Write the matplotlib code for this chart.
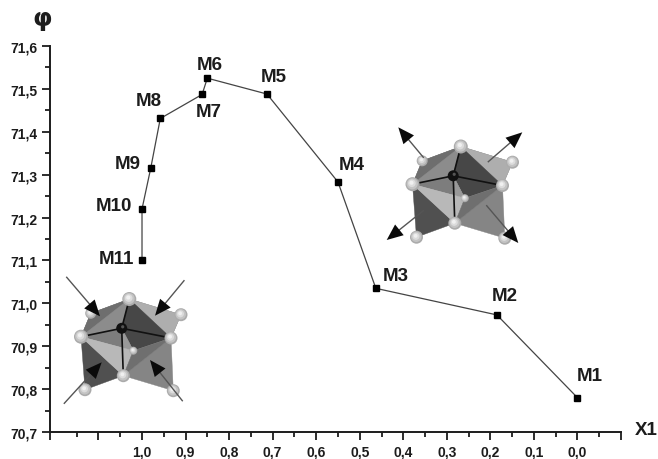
import matplotlib
matplotlib.use("Agg")
import matplotlib.pyplot as plt
from matplotlib.patches import Polygon, FancyArrowPatch, Circle

plt.rcParams['font.family'] = ['Liberation Sans', 'DejaVu Sans']
plt.rcParams['font.weight'] = 'bold'

labels = ['M1', 'M2', 'M3', 'M4', 'M5', 'M6', 'M7', 'M8', 'M9', 'M10', 'M11']
x1 = [0.0, 0.185, 0.463, 0.55, 0.713, 0.85, 0.862, 0.958, 0.98, 1.0, 1.0]
phi = [70.78, 70.973, 71.035, 71.283, 71.488, 71.525, 71.487, 71.431, 71.315, 71.22, 71.10]

x_major = [1.2113, 1.1, 1.0, 0.9, 0.8, 0.7, 0.6, 0.5, 0.4, 0.3, 0.2, 0.1, 0.0, -0.1]
x_tick_labels = ['', '', '1,0', '0,9', '0,8', '0,7', '0,6', '0,5', '0,4', '0,3', '0,2', '0,1', '0,0', '']
x_minor = [1.15, 1.05, 0.95, 0.85, 0.75, 0.65, 0.55, 0.45, 0.35, 0.25, 0.15, 0.05, -0.05]
y_major = [70.7, 70.8, 70.9, 71.0, 71.1, 71.2, 71.3, 71.4, 71.5, 71.6]
y_tick_labels = ['70,7', '70,8', '70,9', '71,0', '71,1', '71,2', '71,3', '71,4', '71,5', '71,6']
y_minor = [70.75, 70.85, 70.95, 71.05, 71.15, 71.25, 71.35, 71.45, 71.55]

# label offsets from each point, in pixels (right, up)
label_dx = [12, 8, 20, 14, 7, 2, 7, -11, -23, -28, -26]
label_dy = [22, 19, 13, 17, 18, 14, -17, 18, 5, 3, 2]

W, H = 658, 460
ink = '#1c1c1c'
fig = plt.figure(figsize=(W / 100, H / 100), dpi=100)
ax = fig.add_axes([50 / W, 1 - 433 / H, (621 - 50) / W, (433 - 47) / H])
ax.set_xlim(1.2113, -0.0999)
ax.set_ylim(70.7, 71.6)
ax.patch.set_alpha(0)
ax.plot(x1, phi, color='#444444', lw=0.9, marker='s', ms=5,
        mfc='black', mec='black', zorder=5)
for name, x, y, dx, dy in zip(labels, x1, phi, label_dx, label_dy):
    ax.annotate(name, (x, y), xytext=(dx * .72, dy * .72), textcoords='offset points',
                ha='center', va='center', fontsize=13.5, fontweight='bold', color=ink, zorder=6)

ax.set_xticks(x_major, x_tick_labels)
ax.set_xticks(x_minor, minor=True)
ax.set_yticks(y_major, y_tick_labels)
ax.set_yticks(y_minor, minor=True)
ax.tick_params(which='major', length=5.8, width=1.3, color=ink, labelsize=10, labelcolor=ink)
ax.tick_params(which='minor', length=3.4, width=1.3, color=ink)
ax.tick_params(axis='x', which='major', pad=3.5)
ax.tick_params(axis='y', which='major', pad=3)
for s in ('top', 'right'):
    ax.spines[s].set_visible(False)
for s in ('left', 'bottom'):
    ax.spines[s].set_linewidth(1.4)
    ax.spines[s].set_color(ink)

# overlay in pixel coordinates for the two polyhedron illustrations and axis titles
ov = fig.add_axes([0, 0, 1, 1], zorder=3)
ov.set_xlim(0, W)
ov.set_ylim(H, 0)
ov.axis('off')
ov.text(42.5, 19, 'φ', fontsize=18, ha='center', va='center', color=ink, family='DejaVu Sans', fontweight='bold')
ov.text(646, 431, 'X1', fontsize=13.5, ha='center', va='center', color=ink, fontweight='bold')

V = dict(T=(129.3, 40), BL=(90.7, 54.3), BR=(181, 55.7), L=(81, 77.7), R=(171, 79),
         B=(123.3, 116.7), BLo=(85, 130.7), BRo=(173.3, 131.7), C=(121.7, 69.3), I=(133.3, 91.7))
faces = [(('BL', 'T', 'BR', 'R', 'L'), '#7a7a7a'),
         (('BL', 'T', 'L'), '#6e6e6e'),
         (('T', 'BR', 'R'), '#aeaeae'),
         (('L', 'B', 'BLo'), '#505050'),
         (('R', 'B', 'BRo'), '#858585'),
         (('T', 'L', 'C'), '#8c8c8c'),
         (('T', 'R', 'I', 'C'), '#474747'),
         (('L', 'C', 'I'), '#7d7d7d'),
         (('C', 'I', 'B'), '#999999'),
         (('L', 'I', 'B'), '#b8b8b8'),
         (('R', 'I', 'B'), '#6f6f6f')]


def ball(cx, cy, r, z):
    for f, shade in zip((1.0, 0.8, 0.55, 0.3), ('#ababab', '#c4c4c4', '#dcdcdc', '#f0f0f0')):
        ov.add_patch(Circle((cx - (1 - f) * r * .2, cy - (1 - f) * r * .3), r * f, color=shade, lw=0, zorder=z))


def solid(ox, oy, arrows):
    P = {k: (ox + v[0], oy + v[1]) for k, v in V.items()}
    for keys, c in faces:
        ov.add_patch(Polygon([P[k] for k in keys], closed=True, fc=c, ec=c, lw=0.3, zorder=2))
    for k in ('T', 'L', 'R', 'B'):
        ov.plot([P['C'][0], P[k][0]], [P['C'][1], P[k][1]], color='#111111', lw=1.2, zorder=3)
    for k, r in (('BL', 5.5), ('BR', 6.5), ('BLo', 6.5), ('BRo', 6.5), ('I', 4), ('T', 7), ('L', 7), ('R', 6.5), ('B', 6.5)):
        ball(P[k][0], P[k][1], r, 4)
    ov.add_patch(Circle(P['C'], 5.5, color='#111111', lw=0, zorder=5))
    ov.add_patch(Circle((P['C'][0] + 1, P['C'][1] - 1.5), 1.6, color='#555555', lw=0, zorder=5))
    for (a, b, c, d) in arrows:
        ov.plot([ox + a, ox + (a * .25 + c * .75)], [oy + b, oy + (b * .25 + d * .75)], color='#555555', lw=1.0, zorder=6)
        ov.add_patch(FancyArrowPatch((ox + (a * .7 + c * .3), oy + (b * .7 + d * .3)), (ox + c, oy + d),
                                     arrowstyle='-|>,head_length=0.9,head_width=0.38', mutation_scale=13,
                                     color='#0a0a0a', lw=0, shrinkA=0, shrinkB=0, zorder=7))


solid(0, 260, [(66.7, 18.3, 100, 57.3), (184, 21.7, 155, 56.7), (64.3, 144.3, 101.7, 103.3), (182.3, 141.7, 150, 101)])
solid(331.5, 107.5, [(91.8, 50.8, 66.8, 20.8), (156.8, 55.2, 190.8, 25.8), (91.8, 104.2, 55.2, 133.5), (155.2, 99.2, 186.8, 136.5)])

fig.savefig('out.png', dpi=100, facecolor='white')
